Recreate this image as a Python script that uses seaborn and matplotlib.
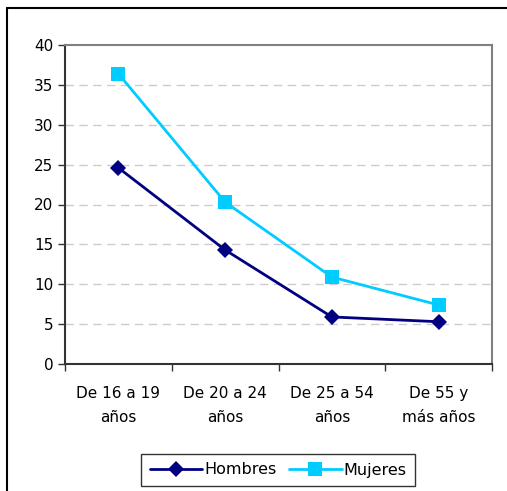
import pandas as pd
import matplotlib
matplotlib.use("Agg")
import matplotlib.pyplot as plt
import seaborn as sns
from matplotlib.lines import Line2D

# Data
grupos = ["De 16 a 19\naños", "De 20 a 24\naños", "De 25 a 54\naños", "De 55 y\nmás años"]
hombres = [24.6, 14.3, 5.9, 5.3]
mujeres = [36.4, 20.3, 10.9, 7.4]

df = pd.DataFrame({
    "grupo": grupos * 2,
    "valor": hombres + mujeres,
    "sexo": ["Hombres"] * 4 + ["Mujeres"] * 4,
})
df["pos"] = list(range(4)) * 2

sns.set_style("white")
plt.rcParams['font.family'] = ['DejaVu Sans']
plt.rcParams['text.color'] = 'black'
plt.rcParams['xtick.color'] = 'black'
plt.rcParams['ytick.color'] = 'black'

fig = plt.figure(figsize=(5.07, 4.91), dpi=100)
ax = fig.add_axes([65/507, 127/491, 427/507, 319/491])

colores = {"Hombres": "#000080", "Mujeres": "#00CCFF"}
marcas = {"Hombres": "D", "Mujeres": "s"}
tam = {"Hombres": 8, "Mujeres": 10}

for sexo in ["Hombres", "Mujeres"]:
    sub = df[df["sexo"] == sexo]
    sns.lineplot(data=sub, x="pos", y="valor", ax=ax, color=colores[sexo],
                 marker=marcas[sexo], markersize=tam[sexo], markeredgewidth=0,
                 linewidth=2, legend=False)

ax.set_xlim(-0.5, 3.5)
ax.set_ylim(0, 40)
ax.set_yticks(range(0, 41, 5))
ax.set_xticks([-0.5, 0.5, 1.5, 2.5, 3.5])
ax.set_xticklabels([])
ax.set_xticks(range(4), minor=True)
ax.set_xticklabels(grupos, minor=True, fontsize=11, linespacing=1.75)
ax.tick_params(axis="x", which="minor", length=0, pad=16, bottom=True)
ax.tick_params(axis="x", which="major", length=5, width=1, color="#333333",
               direction="out", bottom=True)
ax.tick_params(axis="y", length=5, width=1, color="#333333", direction="out",
               labelsize=11, left=True)
ax.set_xlabel("")
ax.set_ylabel("")

for y in range(5, 40, 5):
    ax.axhline(y, color="#cccccc", linestyle=(0, (6, 4)), linewidth=1, zorder=0)

for lado in ["top", "right"]:
    ax.spines[lado].set_color("#808080")
    ax.spines[lado].set_linewidth(1.5)
for lado in ["left", "bottom"]:
    ax.spines[lado].set_color("#333333")
    ax.spines[lado].set_linewidth(1.5)

handles = [
    Line2D([], [], color=colores[s], marker=marcas[s], markersize=tam[s],
           markeredgewidth=0, linewidth=2) for s in ["Hombres", "Mujeres"]
]
leg = fig.legend(handles, ["Hombres", "Mujeres"], loc="center",
                 bbox_to_anchor=(278/507, 1 - 470/491), ncol=2, frameon=True,
                 fancybox=False, edgecolor="black", fontsize=11.5,
                 handlelength=3.3, handletextpad=0.1, columnspacing=0.8,
                 borderpad=0.55, borderaxespad=0)
leg.get_frame().set_linewidth(1)

# outer chart border
fig.add_artist(Line2D([7/507, 7/507], [0, 1 - 8/491], color="black", linewidth=1.5))
fig.add_artist(Line2D([7/507, 1], [1 - 8/491, 1 - 8/491], color="black", linewidth=1.5))

fig.savefig("out.png", dpi=100)
